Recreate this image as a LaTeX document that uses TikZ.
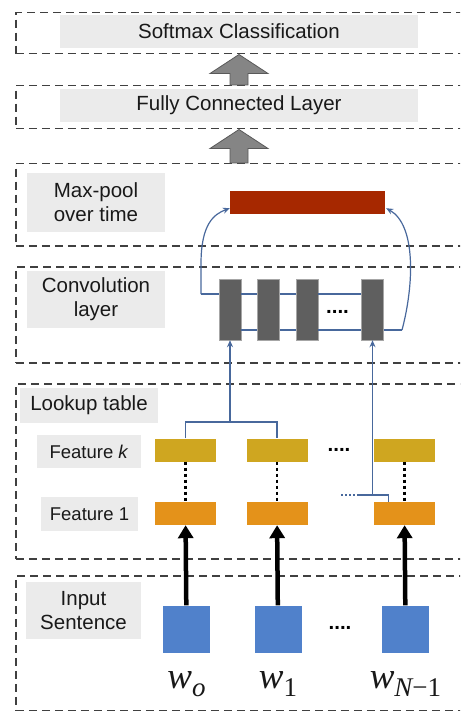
\documentclass[tikz,border=0pt]{standalone}
\usepackage{tikz}
\usepackage{xcolor}
\usepackage{amsmath}
\usepackage{fontspec}
\setmainfont{Liberation Sans}
\newfontfamily\tnr{Liberation Serif}
\usetikzlibrary{calc}
\usetikzlibrary{arrows.meta}

\definecolor{poolred}{RGB}{166,40,0}
\definecolor{convgray}{RGB}{95,95,95}
\definecolor{featgold}{RGB}{207,166,32}
\definecolor{featorange}{RGB}{228,146,26}
\definecolor{wordblue}{RGB}{80,129,203}
\definecolor{linkblue}{RGB}{72,104,156}
\definecolor{labelgray}{RGB}{235,235,235}

\tikzstyle{layer} = [draw=black!75, line width=1.5pt, dash pattern=on 8pt off 5pt, anchor=north west, inner sep=0pt, minimum width=470pt]
\tikzstyle{lbl} = [fill=labelgray, text=black!90, align=center, inner sep=0pt, font=\fontsize{20.5}{24}\selectfont]
\tikzstyle{featlbl} = [lbl, font=\fontsize{18.5}{22}\selectfont]
\tikzstyle{bar} = [inner sep=0pt, minimum width=61pt, minimum height=23pt]
\tikzstyle{convbar} = [fill=convgray, draw=black!35, line width=0.4pt, inner sep=0pt, minimum width=22pt, minimum height=61pt]
\tikzstyle{word} = [fill=wordblue, inner sep=0pt, minimum size=47pt]
\tikzstyle{wordlbl} = [inner sep=0pt, anchor=base, text=black!90, font=\tnr\itshape\fontsize{37}{40}\selectfont]
\tikzstyle{link} = [draw=linkblue, line width=1.2pt, >={Stealth[length=7pt,width=6pt]}]
\tikzstyle{feed} = [line width=4.5pt, -{Triangle[length=13pt,width=15pt]}]
\tikzstyle{fat} = [fill=black!48, draw=black!65, line width=0.8pt]
\tikzstyle{gap} = [line width=2.5pt, dash pattern=on 3pt off 3pt]
\tikzstyle{ellip} = [inner sep=0pt, font=\fontsize{20.5}{24}\selectfont\bfseries]

\newcommand{\wsub}[1]{\raisebox{-8pt}{\fontsize{27}{28}\selectfont #1}}

\begin{document}
\begin{tikzpicture}[x=1pt, y=-1pt]
\useasboundingbox (0,0) rectangle (460,711);
\clip (0,0) rectangle (460,711);

\node[layer, minimum height=41pt] (softbox) at (15,12) {};
\node[layer, minimum height=43pt] (fcbox) at (15,85) {};
\node[layer, minimum height=82pt] (poolbox) at (15,163) {};
\node[layer, minimum height=96pt] (convbox) at (15,266) {};
\node[layer, minimum height=175pt] (lookbox) at (15,383) {};
\node[layer, minimum height=135pt] (inbox) at (15,575) {};

\node[lbl, minimum width=358pt, minimum height=33pt] (soft) at (239,31.5) {Softmax Classification};
\node[lbl, minimum width=358pt, minimum height=33pt] (fc) at (239,105.5) {Fully Connected Layer};
\node[lbl, minimum width=138pt, minimum height=59pt] (poollbl) at (96,202.5) {Max-pool\\over time};
\node[lbl, minimum width=138pt, minimum height=57pt] (convlbl) at (96,299.5) {Convolution\\layer};
\node[lbl, minimum width=138pt, minimum height=35pt] (looklbl) at (89,405.5) {Lookup table};
\node[featlbl, minimum width=104pt, minimum height=33pt] (featk) at (89,451.5) {Feature \textit{k}};
\node[featlbl, minimum width=97pt, minimum height=34pt] (feat1) at (89.5,514) {Feature 1};
\node[lbl, minimum width=115pt, minimum height=57pt] (inlbl) at (83.5,610.5) {Input\\Sentence};

\foreach \a/\b in {softbox/fcbox, fcbox/poolbox}
  \filldraw[fat] (\a.south -| soft) -- ++(29,19) -- ++(-20,0)
    -- ($(\b.north -| soft)+(9,0)$) -- ($(\b.north -| soft)+(-9,0)$)
    -- ($(\a.south -| soft)+(-9,19)$) -- ++(-20,0) -- cycle;

\node[fill=poolred, inner sep=0pt, minimum width=155pt, minimum height=23pt] (pool) at (307.5,202.5) {};

\foreach \n/\x in {1/230, 2/268.5, 3/307, 4/372.5}
  \node[convbar] (c\n) at (\x,309.5) {};

\coordinate (tl) at (201,294);
\coordinate (br) at (402,330);
\draw[link] (tl) -- (c1.west |- tl);
\foreach \a/\b in {c1/c2, c2/c3, c3/c4} {
  \draw[link] (\a.east |- tl) -- (\b.west |- tl);
  \draw[link] (\a.east |- br) -- (\b.west |- br);
}
\draw[link] (c4.east |- br) -- (br);
\draw[link,->] (tl) -- ++(0,-30) .. controls ($(tl)+(0,-70)$) and ($(pool.south west)+(-16,0)$) .. ($(pool.south west)+(0,-6)$);
\draw[link,->] (br) .. controls ($(br)+(12,-45)$) and ($(pool.south east)+(31,11)$) .. ($(pool.south east)+(1,-6)$);
\node[ellip] (cdots) at (337.5,312) {....};

\foreach \n/\x/\w in {1/185.5/\wsub{o}, 2/277/\wsub{\upshape 1}, 3/404.5/\wsub{N{\upshape\textminus 1}}} {
  \node[bar, fill=featgold] (k\n) at (\x,450) {};
  \node[bar, fill=featorange] (f\n) at (\x,513.5) {};
  \draw[gap] (k\n) -- (f\n);
  \node[word] (w\n) at (\x+1,629) {};
  \draw[feed] (w\n) -- (f\n);
  \node[wordlbl] (t\n) at ($(w\n.south)+(0,36)$) {w\w};
}
\node[ellip] (kdots) at (339,450) {....};
\node[ellip] (wdots) at (340,628) {....};

\coordinate (jn) at (230,422);
\draw[link] (k1.north) |- (jn) -| (k2.north);
\draw[link,->] (jn) -- (c1.south);

\coordinate (jr) at (372.5,495);
\draw[link,->] (jr) -- (c4.south);
\draw[link] ($(f3.north west)+(15,0)$) |- (jr) -- ++(-14,0);
\draw[link, dash pattern=on 2pt off 2pt] ($(jr)+(-14,0)$) -- ++(-18,0);
\end{tikzpicture}
\end{document}
